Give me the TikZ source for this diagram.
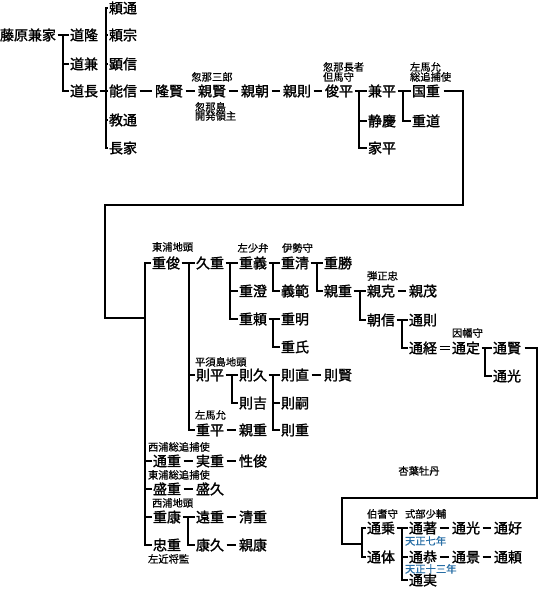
\documentclass[tikz,border=0pt]{standalone}
\usepackage{fontspec}
\newfontfamily\jp{Noto Sans CJK JP}[FakeBold=1.6]
\newfontfamily\jps{Noto Sans CJK JP}[FakeBold=0.6]
\definecolor{tenblue}{RGB}{40,110,165}
\newcommand\kbr[3]{%
  \draw[ln] (#1.east) -- (#1.east -| #2);
  \foreach \c in {#3} {\draw[ln] (#1.east -| #2) |- (\c.west);}
}
\begin{document}
\begin{tikzpicture}[x=1pt,y=-1pt,
  nm/.style={font=\jp\fontsize{14}{14}\selectfont, inner sep=1.5pt, outer sep=0pt, text height=12.3pt, text depth=1.7pt},
  sm/.style={font=\jps\fontsize{10.3}{10.3}\selectfont, inner sep=0pt, outer sep=0pt, anchor=west, text height=9pt, text depth=1.3pt},
  bl/.style={sm, text=tenblue},
  ln/.style={line width=2.3pt, line join=miter},
  dl/.style={ln, shorten >=2pt, shorten <=1pt},
]
\useasboundingbox (0,0) rectangle (539,592);
% ---------- top section ----------
\node[nm] (A0) at (28,35) {藤原兼家};
\node[nm] (A1) at (84,35) {道隆};
\node[nm] (A2) at (84,64) {道兼};
\node[nm] (A3) at (84,91) {道長};
\node[nm] (B1) at (123,8) {頼通};
\node[nm] (B2) at (123,35) {頼宗};
\node[nm] (B3) at (123,64) {顕信};
\node[nm] (B4) at (123,91) {能信};
\node[nm] (B5) at (123,120) {教通};
\node[nm] (B6) at (123,148) {長家};
\node[nm] (C1) at (169,91) {隆賢};
\node[nm] (C2) at (212,91) {親賢};
\node[nm] (C3) at (255,91) {親朝};
\node[nm] (C4) at (297,91) {親則};
\node[nm] (C5) at (339,91) {俊平};
\node[nm] (D1) at (382,91) {兼平};
\node[nm] (D2) at (382,121) {静慶};
\node[nm] (D3) at (382,148) {家平};
\node[nm] (E1) at (426,91) {国重};
\node[nm] (E2) at (426,121) {重道};
\node[sm, anchor=center] (t1) at (212,77) {忽那三郎};
\node[sm] (t2) at (195,107) {忽那島};
\node[sm] (t3) at (195,116) {開発領主};
\node[sm] (t4) at (323,67) {忽那長者};
\node[sm] (t5) at (323,77) {但馬守};
\node[sm] (t6) at (410,67) {左馬允};
\node[sm] (t7) at (410,77) {総追捕使};
\coordinate (v0) at (63,0);
\coordinate (v1) at (106,0);
\coordinate (v2) at (359,0);
\coordinate (v3) at (403,0);
\kbr{A0}{v0}{A1,A2,A3}
\kbr{A3}{v1}{B1,B2,B3,B4,B5,B6}
\kbr{C5}{v2}{D1,D2,D3}
\kbr{D1}{v3}{E1,E2}
\draw[dl] (B4.east) -- (C1.west);
\draw[dl] (C1.east) -- (C2.west);
\draw[dl] (C2.east) -- (C3.west);
\draw[dl] (C3.east) -- (C4.west);
\draw[dl] (C4.east) -- (C5.west);
% long connector to second section
\coordinate (k1) at (463,205);
\coordinate (k2) at (105,318);
\coordinate (vM) at (145,318);
\draw[ln] ([xshift=2pt]E1.east) -| (k1) -| (k2) -- (vM);
% ---------- second section ----------
\node[nm] (F0) at (166,263) {重俊};
\node[sm] (s1) at (152,247) {東浦地頭};
\node[nm] (G1) at (210,263) {久重};
\node[nm] (G2) at (210,375) {則平};
\node[nm] (G3) at (210,430) {重平};
\node[nm] (H1) at (253,263) {重義};
\node[nm] (H2) at (253,291) {重澄};
\node[nm] (H3) at (253,319) {重頼};
\node[sm, anchor=center] (s2) at (253,248) {左少弁};
\node[nm] (I1) at (295,263) {重清};
\node[nm] (I2) at (295,291) {義範};
\node[sm] (s3) at (282,248) {伊勢守};
\node[nm] (I3) at (295,319) {重明};
\node[nm] (I4) at (295,347) {重氏};
\node[nm] (J1) at (338,263) {重勝};
\node[nm] (J2) at (338,291) {親重};
\node[nm] (K1) at (381,291) {親克};
\node[nm] (K2) at (381,320) {朝信};
\node[sm] (s4) at (367,276) {弾正忠};
\node[nm] (L1) at (423,291) {親茂};
\node[nm] (L2) at (423,320) {通則};
\node[nm] (L3) at (423,348) {通経};
\node[nm] (M1) at (466,348) {通定};
\node[sm] (s5) at (452,333) {因幡守};
\node[nm] (N1) at (507,348) {通賢};
\node[nm] (N2) at (507,376) {通光};
\node[sm] (s6) at (195,362) {平須島地頭};
\node[nm] (P1) at (253,375) {則久};
\node[nm] (P2) at (253,403) {則吉};
\node[nm] (Q1) at (295,375) {則直};
\node[nm] (Q2) at (295,403) {則嗣};
\node[nm] (Q3) at (295,430) {則重};
\node[nm] (Q4) at (338,375) {則賢};
\node[sm] (s7) at (195,415) {左馬允};
\node[nm] (R1) at (253,430) {親重};
\node[nm] (S1) at (167,461) {通重};
\node[sm] (s8) at (148,447) {西浦総追捕使};
\node[nm] (S2) at (210,461) {実重};
\node[nm] (S3) at (253,461) {性俊};
\node[nm] (T1) at (167,489) {盛重};
\node[sm] (s9) at (148,475) {東浦総追捕使};
\node[nm] (T2) at (210,489) {盛久};
\node[nm] (U1) at (167,517) {重康};
\node[sm] (s10) at (152,503) {西浦地頭};
\node[nm] (U2) at (210,517) {遠重};
\node[nm] (U3) at (253,517) {清重};
\node[nm] (U4) at (210,545) {康久};
\node[nm] (U5) at (253,545) {親康};
\node[nm] (W1) at (167,545) {忠重};
\node[sm] (s11) at (148,559) {左近将監};
\node[sm, anchor=center] (s12) at (419,471) {杏葉牡丹};
\foreach \c in {F0,S1,T1,U1,W1} {\draw[ln] (vM) |- (\c.west);}
\coordinate (vG) at (189,0);
\coordinate (vH) at (230,0);
\coordinate (vI) at (273,0);
\coordinate (vJ) at (317,0);
\coordinate (vK) at (360,0);
\coordinate (vL) at (402,0);
\coordinate (vN) at (485,0);
\coordinate (vP) at (232,0);
\coordinate (vU) at (188,0);
\kbr{F0}{vG}{G1,G2,G3}
\kbr{G1}{vH}{H1,H2,H3}
\kbr{H1}{vI}{I1,I2}
\kbr{H3}{vI}{I3,I4}
\kbr{I1}{vJ}{J1,J2}
\kbr{J2}{vK}{K1,K2}
\kbr{K2}{vL}{L2,L3}
\kbr{M1}{vN}{N1,N2}
\kbr{G2}{vP}{P1,P2}
\kbr{P1}{vI}{Q1,Q2,Q3}
\kbr{U1}{vU}{U2,U4}
\draw[dl] (K1.east) -- (L1.west);
\draw[dl] (Q1.east) -- (Q4.west);
\draw[dl] (G3.east) -- (R1.west);
\draw[dl] (S1.east) -- (S2.west);
\draw[dl] (S2.east) -- (S3.west);
\draw[dl] (T1.east) -- (T2.west);
\draw[dl] (U2.east) -- (U3.west);
\draw[dl] (U4.east) -- (U5.west);
\draw[double, line width=0.7pt, double distance=2.6pt, shorten <=1pt, shorten >=1pt] (L3.east) -- (M1.west);
% connector to third section
\coordinate (n1) at (537,498);
\coordinate (n2) at (342,544);
\coordinate (vX) at (362,544);
\draw[ln] ([xshift=2pt]N1.east) -| (n1) -| (n2) -- (vX);
% ---------- third section ----------
\node[nm] (X1) at (381,528) {通乗};
\node[nm] (X2) at (381,557) {通体};
\node[sm] (u1) at (367,514) {伯耆守};
\node[nm] (Y1) at (423,528) {通著};
\node[nm] (Y2) at (423,557) {通恭};
\node[nm] (Y3) at (423,580) {通実};
\node[sm] (u2) at (405,514) {式部少輔};
\node[bl] (u3) at (405,541) {天正七年};
\node[bl] (u4) at (405,569) {天正十三年};
\node[nm] (Y4) at (466,528) {通光};
\node[nm] (Y5) at (508,528) {通好};
\node[nm] (Y6) at (466,557) {通景};
\node[nm] (Y7) at (508,557) {通頼};
\foreach \c in {X1,X2} {\draw[ln] (vX) |- (\c.west);}
\coordinate (vY) at (402,0);
\kbr{X1}{vY}{Y1,Y2,Y3}
\draw[dl] (Y1.east) -- (Y4.west);
\draw[dl] (Y4.east) -- (Y5.west);
\draw[dl] (Y2.east) -- (Y6.west);
\draw[dl] (Y6.east) -- (Y7.west);
\end{tikzpicture}
\end{document}
